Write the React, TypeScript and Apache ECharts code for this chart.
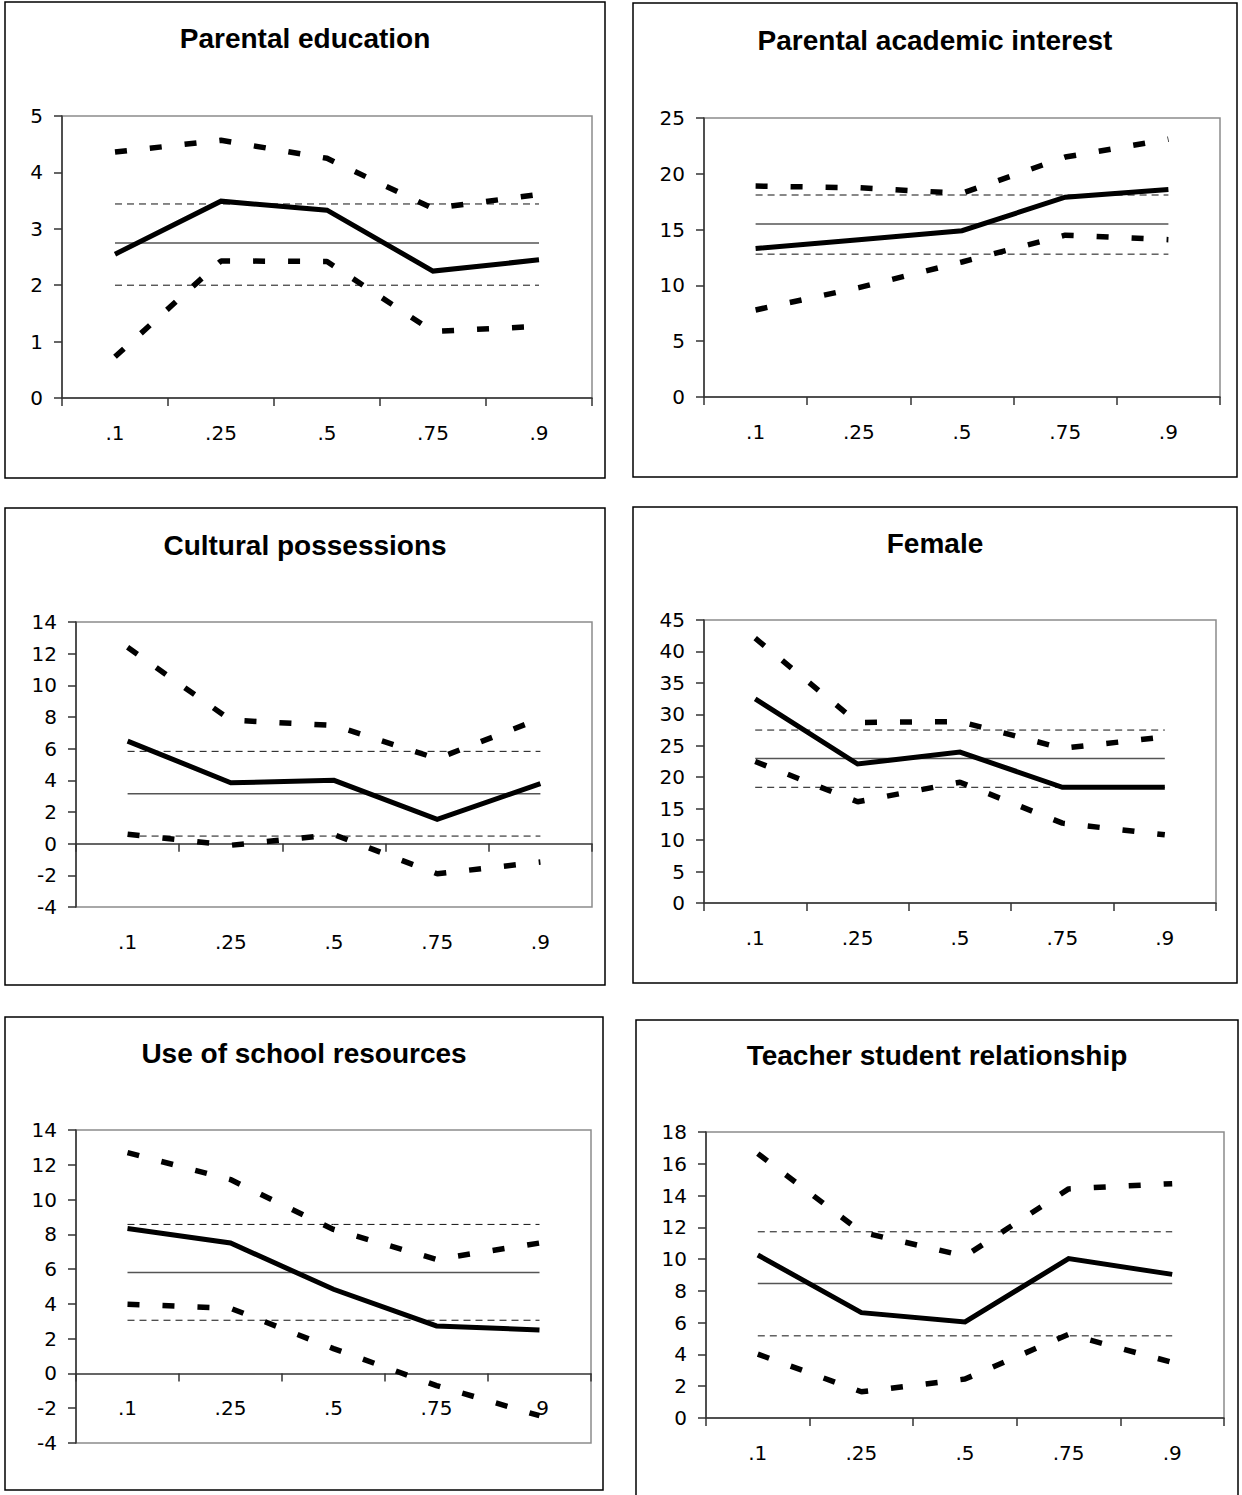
import React, { useEffect, useRef } from "react";
import * as echarts from "echarts";

// Quantile labels
const categories = [".1", ".25", ".5", ".75", ".9"];

// Parental education
const parentalEduEst = [2.55, 3.49, 3.33, 2.25, 2.45];
const parentalEduUpper = [4.36, 4.57, 4.25, 3.36, 3.61];
const parentalEduLower = [0.73, 2.43, 2.42, 1.18, 1.27];
const parentalEduOls = [2.75, 2.0, 3.44]; // estimate, lower, upper

// Parental academic interest
const academicEst = [13.3, 14.1, 14.9, 17.9, 18.6];
const academicUpper = [18.9, 18.75, 18.25, 21.5, 23.1];
const academicLower = [7.8, 9.8, 12.1, 14.5, 14.1];
const academicOls = [15.5, 12.8, 18.1];

// Cultural possessions
const culturalEst = [6.48, 3.85, 4.0, 1.54, 3.79];
const culturalUpper = [12.4, 7.8, 7.47, 5.37, 7.9];
const culturalLower = [0.59, -0.1, 0.57, -1.9, -1.16];
const culturalOls = [3.16, 0.48, 5.83];

// Female
const femaleEst = [32.45, 22.1, 24.0, 18.4, 18.4];
const femaleUpper = [42.1, 28.7, 28.85, 24.6, 26.4];
const femaleLower = [22.5, 16.1, 19.2, 12.7, 10.85];
const femaleOls = [22.97, 18.4, 27.5];

// Use of school resources
const schoolEst = [8.34, 7.5, 4.84, 2.73, 2.5];
const schoolUpper = [12.7, 11.15, 8.28, 6.56, 7.5];
const schoolLower = [3.98, 3.75, 1.43, -0.7, -2.43];
const schoolOls = [5.81, 3.06, 8.57];

// Teacher student relationship
const teacherEst = [10.26, 6.63, 6.05, 10.03, 9.04];
const teacherUpper = [16.64, 11.7, 10.19, 14.42, 14.75];
const teacherLower = [4.02, 1.65, 2.45, 5.27, 3.5];
const teacherOls = [8.46, 5.17, 11.72];

const TITLE_FONT = '"Liberation Sans", Arial, sans-serif';
const LABEL_FONT = '"DejaVu Sans", "Liberation Sans", Arial, sans-serif';

type Panel = {
  title: string;
  est: number[];
  upper: number[];
  lower: number[];
  ols: number[];
  box: number[]; // x, y, w, h
  titleY: number;
  grid: number[]; // left, top, width, height
  yMin: number;
  yMax: number;
  yInt: number;
  labelsAtZero: boolean;
};

const panels: Panel[] = [
  { title: "Parental education", est: parentalEduEst, upper: parentalEduUpper, lower: parentalEduLower, ols: parentalEduOls,
    box: [5, 2, 600, 476], titleY: 38, grid: [62, 116, 530, 282], yMin: 0, yMax: 5, yInt: 1, labelsAtZero: false },
  { title: "Parental academic interest", est: academicEst, upper: academicUpper, lower: academicLower, ols: academicOls,
    box: [633, 3, 604, 474], titleY: 40, grid: [704, 118, 516, 279], yMin: 0, yMax: 25, yInt: 5, labelsAtZero: false },
  { title: "Cultural possessions", est: culturalEst, upper: culturalUpper, lower: culturalLower, ols: culturalOls,
    box: [5, 508, 600, 477], titleY: 545, grid: [76, 622, 516, 285], yMin: -4, yMax: 14, yInt: 2, labelsAtZero: false },
  { title: "Female", est: femaleEst, upper: femaleUpper, lower: femaleLower, ols: femaleOls,
    box: [633, 507, 604, 476], titleY: 543, grid: [704, 620, 512, 283], yMin: 0, yMax: 45, yInt: 5, labelsAtZero: false },
  { title: "Use of school resources", est: schoolEst, upper: schoolUpper, lower: schoolLower, ols: schoolOls,
    box: [5, 1017, 598, 473], titleY: 1053, grid: [76, 1130, 515, 313], yMin: -4, yMax: 14, yInt: 2, labelsAtZero: true },
  { title: "Teacher student relationship", est: teacherEst, upper: teacherUpper, lower: teacherLower, ols: teacherOls,
    box: [636, 1020, 602, 480], titleY: 1055, grid: [706, 1132, 518, 286], yMin: 0, yMax: 18, yInt: 2, labelsAtZero: false },
];

function buildOption() {
  const grids: any[] = [];
  const xAxes: any[] = [];
  const yAxes: any[] = [];
  const series: any[] = [];
  const graphics: any[] = [];

  const labelStyle = { fontSize: 20, color: "#000", fontFamily: LABEL_FONT };

  panels.forEach((p, i) => {
    const [gl, gt, gw, gh] = p.grid;
    grids.push({
      left: gl, top: gt, width: gw, height: gh,
      show: true, borderColor: "#8c8c8c", borderWidth: 1.5, backgroundColor: "transparent",
      containLabel: false,
    });
    const xi = xAxes.length;
    xAxes.push({
      gridIndex: i, type: "category", data: categories, boundaryGap: true, position: "bottom",
      axisLine: { show: true, onZero: true, lineStyle: { color: "#333", width: 1.5 } },
      axisTick: { show: true, length: 8, inside: false, alignWithLabel: false, lineStyle: { color: "#333", width: 1.5 } },
      axisLabel: { show: !p.labelsAtZero, margin: 25, interval: 0, ...labelStyle },
      splitLine: { show: false },
    });
    if (p.labelsAtZero) {
      // labels placed next to the zero line
      const zeroOffset = -((0 - p.yMin) / (p.yMax - p.yMin)) * gh;
      xAxes.push({
        gridIndex: i, type: "category", data: categories, boundaryGap: true, position: "bottom",
        offset: zeroOffset,
        axisLine: { show: false, onZero: false },
        axisTick: { show: false },
        axisLabel: { show: true, margin: 25, interval: 0, ...labelStyle },
        splitLine: { show: false },
      });
    }
    yAxes.push({
      gridIndex: i, type: "value", min: p.yMin, max: p.yMax, interval: p.yInt,
      axisLine: { show: true, lineStyle: { color: "#333", width: 1.5 } },
      axisTick: { show: true, length: 8, inside: false, lineStyle: { color: "#333", width: 1.5 } },
      axisLabel: { margin: 19, ...labelStyle },
      splitLine: { show: false },
    });

    const [olsEst, olsLo, olsHi] = p.ols;
    const base = { type: "line", xAxisIndex: xi, yAxisIndex: i, symbol: "none", showSymbol: false, silent: true };
    series.push({ ...base, data: new Array(categories.length).fill(olsLo), lineStyle: { color: "#111", width: 1, type: [7, 5] } });
    series.push({ ...base, data: new Array(categories.length).fill(olsHi), lineStyle: { color: "#111", width: 1, type: [7, 5] } });
    series.push({ ...base, data: new Array(categories.length).fill(olsEst), lineStyle: { color: "#555", width: 1.5 } });
    series.push({ ...base, data: p.upper, lineStyle: { color: "#000", width: 5.5, type: [12, 23], cap: "butt" } });
    series.push({ ...base, data: p.lower, lineStyle: { color: "#000", width: 5.5, type: [12, 23], cap: "butt" } });
    series.push({ ...base, data: p.est, lineStyle: { color: "#000", width: 5, join: "miter" } });

    const [bx, by, bw, bh] = p.box;
    graphics.push({
      type: "rect", silent: true, z: 0,
      shape: { x: bx, y: by, width: bw, height: bh },
      style: { fill: "none", stroke: "#000", lineWidth: 1.5 },
    });
    graphics.push({
      type: "text", silent: true,
      x: bx + bw / 2, y: p.titleY,
      style: { text: p.title, fill: "#000", font: `bold 28px ${TITLE_FONT}`, align: "center", verticalAlign: "middle" },
    });
  });

  return {
    animation: false,
    backgroundColor: "#fff",
    grid: grids,
    xAxis: xAxes,
    yAxis: yAxes,
    series,
    graphic: graphics,
  };
}

export default function App() {
  const ref = useRef<HTMLDivElement>(null);
  useEffect(() => {
    if (!ref.current) return;
    const chart = echarts.init(ref.current, undefined, { renderer: "svg" });
    chart.setOption(buildOption() as any);
    return () => chart.dispose();
  }, []);
  return (
    <div
      ref={ref}
      style={{ position: "absolute", left: 0, top: 0, width: 1242, height: 1495, background: "#fff" }}
    />
  );
}
